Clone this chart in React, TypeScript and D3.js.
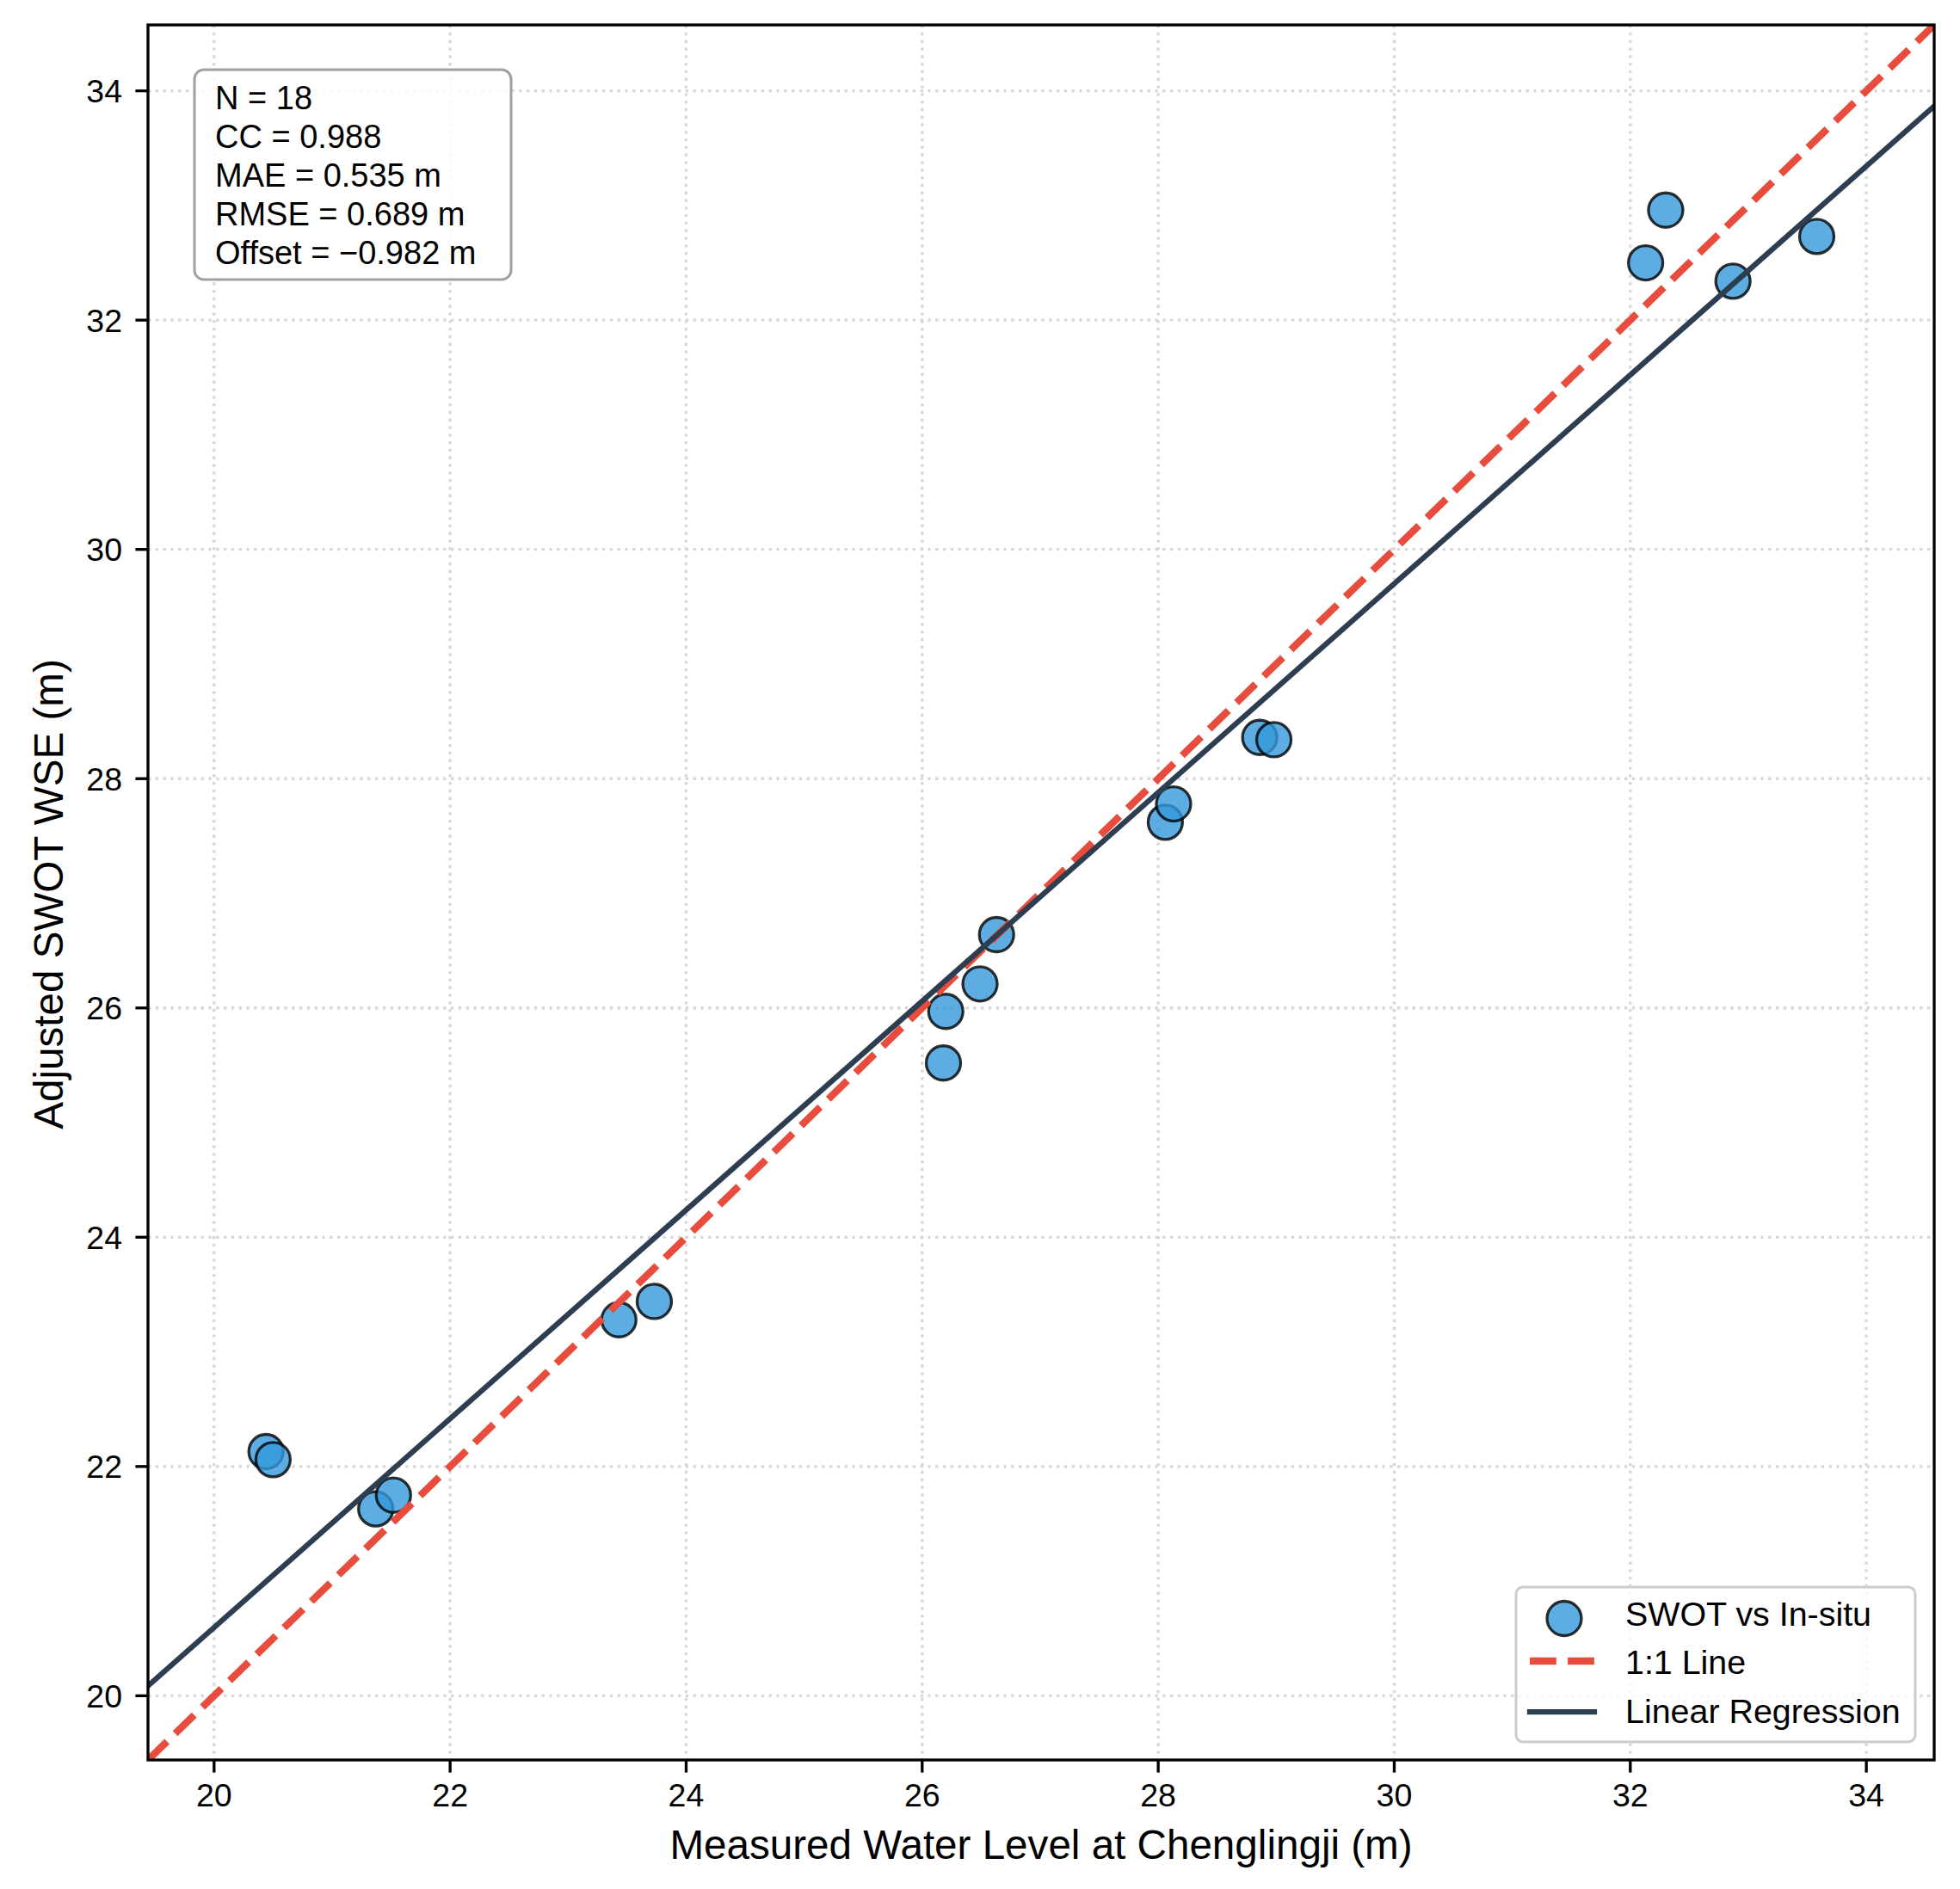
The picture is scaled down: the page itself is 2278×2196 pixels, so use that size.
import React from "react";
import * as d3 from "d3";

// In-situ water level at Chenglingji vs adjusted SWOT water surface elevation (m)
const measured = [
  20.44, 20.5, 21.37, 21.52, 23.43, 23.73, 26.63, 26.49, 26.2, 26.18,
  28.06, 28.13, 28.86, 28.98, 32.3, 32.13, 32.87, 33.58,
];
const swot = [
  22.13, 22.06, 21.63, 21.75, 23.28, 23.44, 26.64, 26.21, 25.97, 25.52,
  27.62, 27.78, 28.36, 28.34, 32.96, 32.5, 32.34, 32.73,
];

const axisLimits = [19.44, 34.575];
const tickValues = [20, 22, 24, 26, 28, 30, 32, 34];

const statsLines = [
  "N = 18",
  "CC = 0.988",
  "MAE = 0.535 m",
  "RMSE = 0.689 m",
  "Offset = \u22120.982 m",
];
const legendLabels = ["SWOT vs In-situ", "1:1 Line", "Linear Regression"];

const xLabel = "Measured Water Level at Chenglingji (m)";
const yLabel = "Adjusted SWOT WSE (m)";

const W = 2278;
const H = 2196;
const plot = { left: 172, right: 2248, top: 29, bottom: 2046 };

const FONT = "'Liberation Sans', Arial, Helvetica, sans-serif";
const tickFont = 37.5;
const statsFont = 38;
const legendFont = 39.4;
const labelFont = 47.6;

const pointFill = "#3498db";
const oneToOneColor = "#e74c3c";
const regColor = "#2c3e50";

// least-squares fit of swot on measured
function linearFit(xs: number[], ys: number[]) {
  const mx = d3.mean(xs)!;
  const my = d3.mean(ys)!;
  let sxy = 0;
  let sxx = 0;
  xs.forEach((x, i) => {
    sxy += (x - mx) * (ys[i] - my);
    sxx += (x - mx) * (x - mx);
  });
  const slope = sxy / sxx;
  return { slope, intercept: my - slope * mx };
}

export default function App() {
  const x = d3.scaleLinear().domain(axisLimits).range([plot.left, plot.right]);
  const y = d3.scaleLinear().domain(axisLimits).range([plot.bottom, plot.top]);

  const fit = linearFit(measured, swot);
  const line = d3
    .line<number>()
    .x((v) => x(v))
    .y((v) => y(v));
  const regLine = d3
    .line<number>()
    .x((v) => x(v))
    .y((v) => y(fit.slope * v + fit.intercept));

  const points = measured.map((m, i) => ({ m, s: swot[i] }));

  const legendX = 1762;
  const legendTop = 1845;
  const rowBase = [1890, 1946, 2003];

  return (
    <svg
      width={W}
      height={H}
      style={{ position: "absolute", left: 0, top: 0, display: "block", background: "#fff" }}
      fontFamily={FONT}
    >
      <defs>
        <clipPath id="plotClip">
          <rect
            x={plot.left}
            y={plot.top}
            width={plot.right - plot.left}
            height={plot.bottom - plot.top}
          />
        </clipPath>
      </defs>
      <rect x={0} y={0} width={W} height={H} fill="#fff" />

      {/* grid */}
      <g stroke="#b0b0b0" strokeWidth={3.3} strokeDasharray="3.3 5.5" opacity={0.5}>
        {tickValues.map((t) => (
          <line key={"gx" + t} x1={x(t)} x2={x(t)} y1={plot.top} y2={plot.bottom} />
        ))}
        {tickValues.map((t) => (
          <line key={"gy" + t} x1={plot.left} x2={plot.right} y1={y(t)} y2={y(t)} />
        ))}
      </g>

      {/* scatter */}
      <g>
        {points.map((p, i) => (
          <circle
            key={i}
            cx={x(p.m)}
            cy={y(p.s)}
            r={20}
            fill={pointFill}
            fillOpacity={0.8}
            stroke="#000"
            strokeOpacity={0.8}
            strokeWidth={3.3}
          />
        ))}
      </g>

      {/* reference and fitted lines */}
      <g clipPath="url(#plotClip)" fill="none">
        <path
          d={line(axisLimits)!}
          stroke={oneToOneColor}
          strokeWidth={8.33}
          strokeDasharray="30.8 13.3"
        />
        <path
          d={regLine(axisLimits)!}
          stroke={regColor}
          strokeWidth={6.25}
          strokeLinecap="square"
        />
      </g>

      {/* stats box */}
      <rect
        x={226}
        y={81}
        width={368}
        height={244}
        rx={11}
        fill="#fff"
        fillOpacity={0.85}
        stroke="#a0a0a0"
        strokeWidth={3}
      />
      <g fontSize={statsFont} fill="#000">
        {statsLines.map((s, i) => (
          <text key={s} x={250} y={127 + i * 45}>
            {s}
          </text>
        ))}
      </g>

      {/* spines */}
      <rect
        x={plot.left}
        y={plot.top}
        width={plot.right - plot.left}
        height={plot.bottom - plot.top}
        fill="none"
        stroke="#000"
        strokeWidth={3.33}
      />

      {/* x axis ticks */}
      <g>
        {tickValues.map((t) => (
          <g key={"xt" + t}>
            <line x1={x(t)} x2={x(t)} y1={plot.bottom} y2={plot.bottom + 14.6} stroke="#000" strokeWidth={3.33} />
            <text x={x(t)} y={2100} textAnchor="middle" fontSize={tickFont}>
              {t}
            </text>
          </g>
        ))}
      </g>
      {/* y axis ticks */}
      <g>
        {tickValues.map((t) => (
          <g key={"yt" + t}>
            <line x1={plot.left - 14.6} x2={plot.left} y1={y(t)} y2={y(t)} stroke="#000" strokeWidth={3.33} />
            <text x={142} y={y(t) + 13.4} textAnchor="end" fontSize={tickFont}>
              {t}
            </text>
          </g>
        ))}
      </g>

      {/* axis titles */}
      <text x={(plot.left + plot.right) / 2} y={2161} textAnchor="middle" fontSize={labelFont}>
        {xLabel}
      </text>
      <text
        transform={`translate(73, ${(plot.top + plot.bottom) / 2 + 2}) rotate(-90)`}
        textAnchor="middle"
        fontSize={labelFont}
      >
        {yLabel}
      </text>

      {/* legend */}
      <rect
        x={legendX}
        y={legendTop}
        width={2226 - legendX}
        height={2025 - legendTop}
        rx={8}
        fill="#fff"
        fillOpacity={0.8}
        stroke="#cccccc"
        strokeWidth={3}
      />
      <circle
        cx={1818}
        cy={1881.5}
        r={20}
        fill={pointFill}
        fillOpacity={0.8}
        stroke="#000"
        strokeOpacity={0.8}
        strokeWidth={3.3}
      />
      <line
        x1={1778}
        x2={1853}
        y1={1931}
        y2={1931}
        stroke={oneToOneColor}
        strokeWidth={8.33}
        strokeDasharray="30.8 13.3"
      />
      <line
        x1={1778}
        x2={1853}
        y1={1990}
        y2={1990}
        stroke={regColor}
        strokeWidth={6.25}
        strokeLinecap="square"
      />
      <g fontSize={legendFont}>
        {legendLabels.map((l, i) => (
          <text key={l} x={1889} y={rowBase[i]}>
            {l}
          </text>
        ))}
      </g>
    </svg>
  );
}
